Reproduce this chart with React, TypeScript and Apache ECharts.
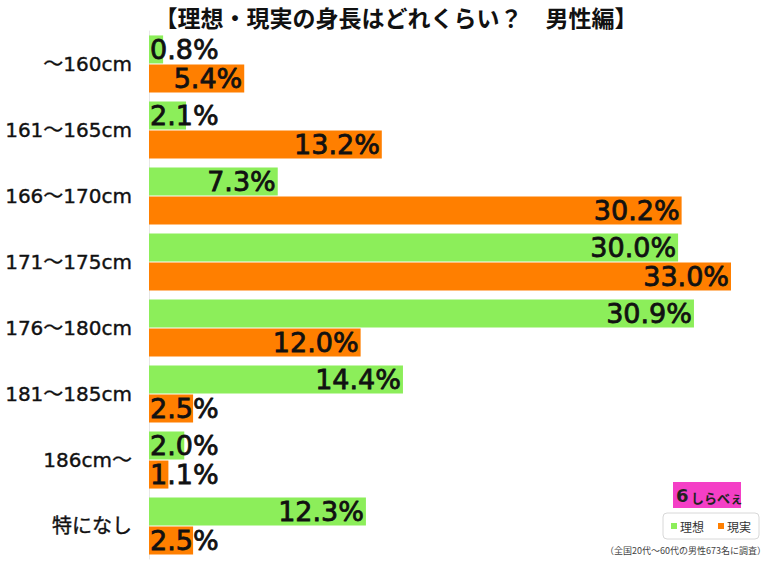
import React, { useEffect, useRef } from "react";
import * as echarts from "echarts";

const categories = ["～160cm", "161～165cm", "166～170cm", "171～175cm", "176～180cm", "181～185cm", "186cm～", "特になし"];
const idealValues = [0.8, 2.1, 7.3, 30.0, 30.9, 14.4, 2.0, 12.3];
const realValues = [5.4, 13.2, 30.2, 33.0, 12.0, 2.5, 1.1, 2.5];
const seriesNames = ["理想", "現実"];
const titleText = "【理想・現実の身長はどれくらい？　男性編】";
const noteText = "（全国20代～60代の男性673名に調査）";

const GREEN = "#8CEE5A";
const ORANGE = "#FF7F00";

function makeData(vals: number[]) {
  return vals.map((v) => ({
    value: v,
    label: {
      position: v < 4 ? "insideLeft" : "insideRight",
      distance: v < 4 ? 1 : 2,
    },
  }));
}

export default function App() {
  const ref = useRef<HTMLDivElement>(null);
  useEffect(() => {
    if (!ref.current) return;
    const chart = echarts.init(ref.current, undefined, { renderer: "svg" });
    const labelStyle = {
      show: true,
      formatter: (p: any) => p.value.toFixed(1) + "%",
      color: "#111",
      fontSize: 27,
      lineHeight: 22,
      fontFamily: "DejaVu Sans",
      textBorderColor: "#111",
      textBorderWidth: 0.8,
    };
    chart.setOption({
      animation: false,
      backgroundColor: "#fff",
      title: {
        text: titleText,
        left: 391,
        textAlign: "center",
        top: 0,
        padding: [4, 5, 2, 5],
        textStyle: { fontSize: 23, lineHeight: 26, fontWeight: "bold", color: "#111", fontFamily: "Noto Sans CJK JP" },
      },
      grid: { left: 149, right: 37, top: 31, bottom: 3 },
      xAxis: { type: "value", min: 0, max: 33, show: false },
      yAxis: {
        type: "category",
        data: categories,
        inverse: true,
        axisLine: { show: true, lineStyle: { color: "#e6e6e6", width: 1 } },
        axisTick: { show: false },
        axisLabel: {
          margin: 17,
          fontSize: 20,
          color: "#111",
          fontFamily: "DejaVu Sans, Noto Sans CJK JP",
          textBorderColor: "#111",
          textBorderWidth: 0.4,
        },
      },
      legend: {
        data: seriesNames,
        left: 663,
        top: 513,
        padding: [7, 8, 7, 8],
        itemGap: 14,
        itemWidth: 6,
        itemHeight: 6,
        icon: "rect",
        borderColor: "#d8d8d8",
        borderWidth: 1,
        borderRadius: 4,
        textStyle: { fontSize: 12, color: "#333", fontFamily: "Noto Sans CJK JP", padding: [0, 0, 0, -2] },
      },
      graphic: [
        { type: "rect", shape: { x: 673, y: 482, width: 68, height: 26 }, style: { fill: "#F43FC6" } },
        { type: "text", x: 676, y: 486, style: { text: "6", fontSize: 18, fontWeight: "bold", fill: "#222", fontFamily: "DejaVu Sans" } },
        { type: "text", x: 691, y: 491, style: { text: "しらべぇ", fontSize: 13, fontWeight: "bold", fill: "#222", fontFamily: "Noto Sans CJK JP" } },
        {
          type: "text",
          x: 766,
          y: 546,
          style: { text: noteText, fontSize: 9, fill: "#444", textAlign: "right", fontFamily: "Noto Sans CJK JP" },
        },
      ],
      series: [
        {
          name: seriesNames[0],
          type: "bar",
          data: makeData(idealValues),
          barWidth: 28,
          barGap: "4%",
          itemStyle: { color: GREEN },
          label: labelStyle,
        },
        {
          name: seriesNames[1],
          type: "bar",
          data: makeData(realValues),
          barWidth: 28,
          itemStyle: { color: ORANGE },
          label: labelStyle,
        },
      ],
    });
    return () => chart.dispose();
  }, []);
  return <div ref={ref} style={{ width: 768, height: 562, position: "absolute", left: 0, top: 0 }} />;
}
